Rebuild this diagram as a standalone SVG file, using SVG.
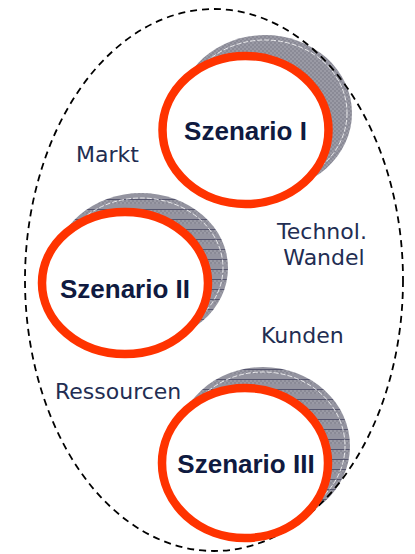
<svg xmlns="http://www.w3.org/2000/svg" width="415" height="554" viewBox="0 0 415 554">
  <defs>
    <pattern id="checker" width="4" height="4" patternUnits="userSpaceOnUse">
      <rect width="4" height="4" fill="#9a9aa5"/>
      <rect width="2" height="2" fill="#8a8a96"/>
      <rect x="2" y="2" width="2" height="2" fill="#8a8a96"/>
    </pattern>
    <pattern id="lined" width="8" height="10" patternUnits="userSpaceOnUse">
      <rect width="4" height="4" fill="#9a9aa5"/>
      <rect width="2" height="2" fill="#8a8a96"/>
      <rect x="2" y="2" width="2" height="2" fill="#8a8a96"/>
      <rect x="4" width="4" height="4" fill="#9a9aa5"/>
      <rect x="4" width="2" height="2" fill="#8a8a96"/>
      <rect x="6" y="2" width="2" height="2" fill="#8a8a96"/>
      <rect y="4" width="8" height="6" fill="#9494a0"/>
      <line x1="0" y1="9.5" x2="8" y2="9.5" stroke="#55556e" stroke-width="1"/>
    </pattern>
  </defs>
  <style>
    .shadow { stroke: none; }
    .inner { fill: none; stroke: #ffffff; stroke-width: 0.8; stroke-dasharray: 5 2; }
    .ring { fill: #ffffff; stroke: #ff3300; stroke-width: 8.5; }
    .title { font-family: "Liberation Sans", Arial, sans-serif; font-weight: bold; font-size: 26px; fill: #0f1a40; text-anchor: middle; }
    .label { font-family: "DejaVu Sans", sans-serif; font-size: 22px; fill: #222d52; }
    .boundary { fill: none; stroke: #000000; stroke-width: 1.8; stroke-dasharray: 7 5; }
  </style>

  <g id="shadows">
    <g id="shadow-1">
      <ellipse class="shadow" cx="265" cy="113" rx="87" ry="78" fill="url(#checker)"/>
      <ellipse class="inner" cx="265" cy="113" rx="82" ry="73"/>
    </g>
    <g id="shadow-2">
      <ellipse class="shadow" cx="141" cy="268" rx="87" ry="75" fill="url(#lined)"/>
      <ellipse class="inner" cx="141" cy="268" rx="82" ry="70"/>
    </g>
    <g id="shadow-3">
      <ellipse class="shadow" cx="263" cy="446" rx="87" ry="79" fill="url(#lined)"/>
      <ellipse class="inner" cx="263" cy="446" rx="82" ry="74"/>
    </g>
  </g>

  <g id="connectors">
    <ellipse class="boundary" cx="214" cy="280" rx="189" ry="271"/>
  </g>

  <g id="szenario-1">
    <ellipse class="ring" cx="245.5" cy="130" rx="83" ry="74"/>
    <text class="title" x="245.5" y="140">Szenario I</text>
  </g>
  <g id="szenario-2">
    <ellipse class="ring" cx="125" cy="283" rx="83" ry="71"/>
    <text class="title" x="125" y="298">Szenario II</text>
  </g>
  <g id="szenario-3">
    <ellipse class="ring" cx="245" cy="463" rx="83" ry="75"/>
    <text class="title" x="246" y="473">Szenario III</text>
  </g>

  <g id="labels">
    <text id="markt" class="label" x="76" y="162">Markt</text>
    <text id="technol" class="label" x="322" y="239" text-anchor="middle">Technol.</text>
    <text id="wandel" class="label" x="324" y="265" text-anchor="middle">Wandel</text>
    <text id="kunden" class="label" x="261" y="343">Kunden</text>
    <text id="ressourcen" class="label" x="55" y="399">Ressourcen</text>
  </g>
</svg>
